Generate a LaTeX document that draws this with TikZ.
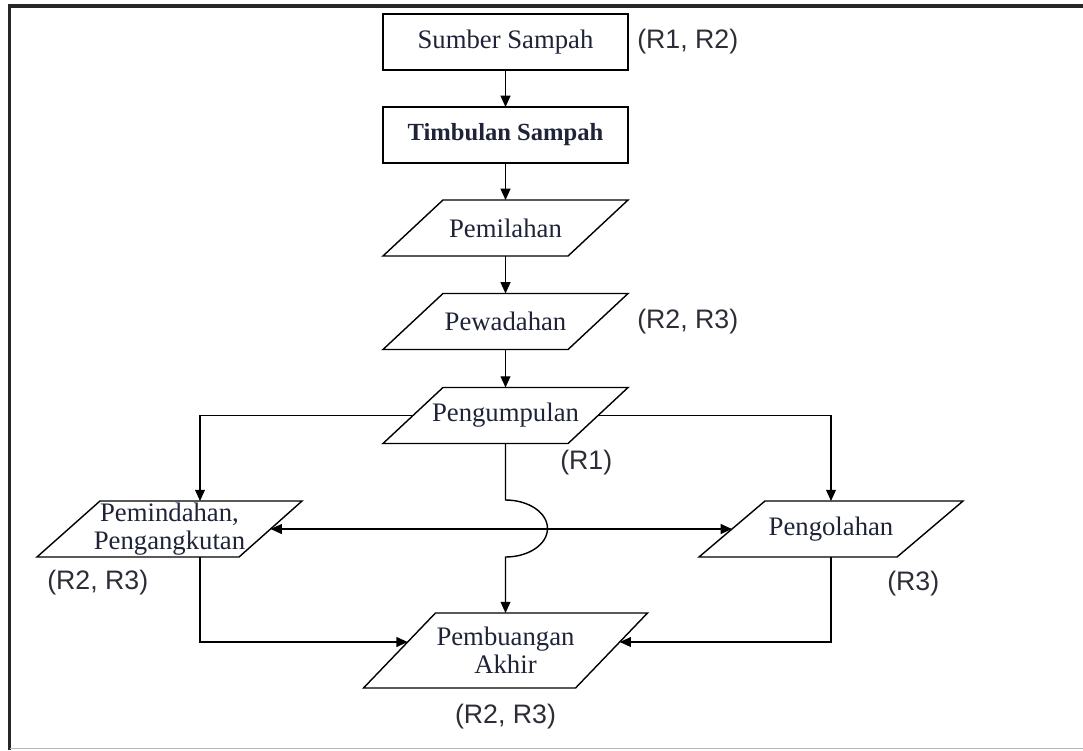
\documentclass[tikz,border=0pt]{standalone}
\usepackage{fontspec}
\setmainfont{Liberation Serif}
\newfontfamily\labelfont{Liberation Sans}
\usetikzlibrary{arrows.meta,calc}
\definecolor{txt}{RGB}{30,35,55}
\definecolor{lbl}{RGB}{45,45,55}
\tikzset{
  mainfont/.style={font=\fontsize{19}{20}\selectfont},
  boxnode/.style={draw, line width=1pt, rectangle, minimum width=6.125cm, minimum height=1.4cm, inner sep=0pt, outer sep=0pt, text=txt, mainfont},
  parabody/.style={rectangle, inner sep=0pt, outer sep=0pt, text=txt, align=center, mainfont},
  parashapeline/.style={line width=1pt, line join=miter},
  lab/.style={text=lbl, font=\labelfont\fontsize{19}{20}\selectfont, inner sep=0pt},
  arr/.style={line width=1pt, -{Triangle[length=8pt,width=7pt]}},
  darr/.style={line width=1pt, {Triangle[length=8pt,width=7pt]}-{Triangle[length=8pt,width=7pt]}}
}
% #1 node name, #2 horizontal slant (in picture units)
\newcommand\parashape[2]{%
  \draw[parashapeline] ($(#1.north west)+(#2/2,0)$) -- ($(#1.north east)+(#2/2,0)$)
    -- ($(#1.south east)-(#2/2,0)$) -- ($(#1.south west)-(#2/2,0)$) -- cycle;}
\begin{document}
\begin{tikzpicture}[x=0.025cm,y=-0.025cm]
\useasboundingbox (0,0) rectangle (1083,750);
% frame
\draw[line width=2.2pt, black!85] (9.5,750) -- (9.5,6) -- (1083,6);
\draw[line width=0.8pt, gray!55] (10,748.5) -- (1083,748.5);

% nodes
\node[boxnode] (sumber) at (505.5,42) {Sumber Sampah};
\node[boxnode, font=\bfseries\fontsize{17.5}{20}\selectfont] (timbulan) at (505.5,135) {Timbulan Sampah};
\node[parabody, minimum width=4.625cm, minimum height=1.4cm] (pemilahan) at (505.5,228) {Pemilahan};
\node[parabody, minimum width=4.625cm, minimum height=1.4cm] (pewadahan) at (505.5,321.5) {Pewadahan};
\node[parabody, minimum width=4.625cm, minimum height=1.4cm] (pengumpulan) at (505.5,415.5) {Pengumpulan};
\node[parabody, minimum width=5.05cm, minimum height=1.4cm] (pemindahan) at (169.5,529) {Pemindahan,\\Pengangkutan};
\node[parabody, minimum width=4.95cm, minimum height=1.4cm] (pengolahan) at (831,529) {Pengolahan};
\node[parabody, minimum width=5.3cm, minimum height=1.875cm] (pembuangan) at (505.5,650.5) {Pembuangan\\Akhir};
\parashape{pemilahan}{60}
\parashape{pewadahan}{60}
\parashape{pengumpulan}{60}
\parashape{pemindahan}{63}
\parashape{pengolahan}{66}
\parashape{pembuangan}{72}

% labels
\node[lab, anchor=west] (l1) at (637,42) {(R1, R2)};
\node[lab, anchor=west] (l2) at (637,321.5) {(R2, R3)};
\node[lab, anchor=west] (l3) at (560,463) {(R1)};
\node[lab, anchor=west] (l4) at (47,583) {(R2, R3)};
\node[lab, anchor=west] (l5) at (887,584) {(R3)};
\node[lab] (l6) at (505.5,717) {(R2, R3)};

% helper coordinates
\coordinate (cornerL) at (200,415.5);
\coordinate (hopA) at (505.5,500);
\coordinate (hopM) at (547.5,528.5);
\coordinate (hopB) at (505.5,557);
\coordinate (pbL) at ($(pembuangan.west)+(8.2,-8.5)$);
\coordinate (pbR) at ($(pembuangan.east)+(8.2,-8.5)$);

% connectors
\draw[arr] (sumber.south) -- (timbulan.north);
\draw[arr] (timbulan.south) -- (pemilahan.north);
\draw[arr] (pemilahan.south) -- (pewadahan.north);
\draw[arr] (pewadahan.south) -- (pengumpulan.north);
\draw[arr] (pengumpulan.west) -- (cornerL) -- (cornerL |- pemindahan.north);
\draw[arr] (pengumpulan.east) -| (pengolahan.north);
\draw[arr] (pengumpulan.south) -- (hopA)
  .. controls (528.7,500) and (547.5,512.76) .. (hopM)
  .. controls (547.5,544.24) and (528.7,557) .. (hopB)
  -- (pembuangan.north);
\draw[darr] (pemindahan.east) -- (pengolahan.west);
\draw[arr] (cornerL |- pemindahan.south) |- (pbL);
\draw[arr] (pengolahan.south) |- (pbR);
\end{tikzpicture}
\end{document}
